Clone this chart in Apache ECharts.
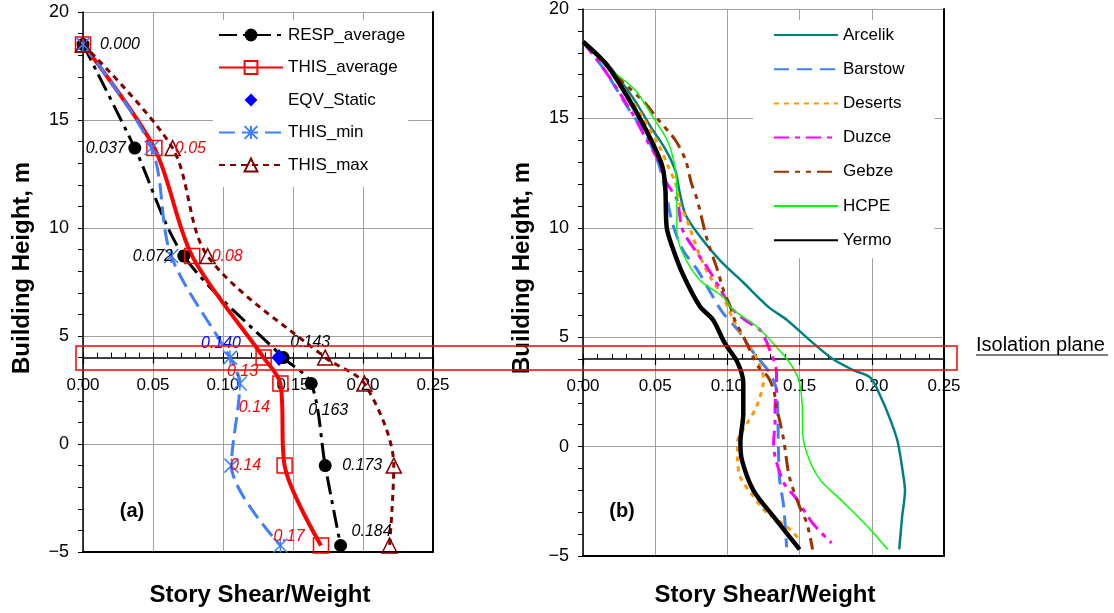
<!DOCTYPE html>
<html>
<head>
<meta charset="utf-8">
<title>Story Shear/Weight</title>
<script src="https://cdn.jsdelivr.net/npm/echarts@6/dist/echarts.min.js"></script>
<style>
  html, body { margin: 0; padding: 0; background: #fff; }
  #main { width: 1114px; height: 613px; }
</style>
</head>
<body>
<div id="main"></div>
<script>
// 坐标轴刻度
let xTicks = [0, 0.05, 0.1, 0.15, 0.2, 0.25]
let yTicks = [-5, 0, 5, 10, 15, 20]

// (a) 各楼层高度及剪力系数
let heights = [18.5, 13.7, 8.7, 4.0, 2.8, -1.0, -4.7]
let respAverage = [0.0, 0.037, 0.072, 0.143, 0.163, 0.173, 0.184]
let thisAverage = [0.0, 0.051, 0.078, 0.129, 0.141, 0.144, 0.17]
let thisMin = [0.0, 0.049, 0.063, 0.105, 0.112, 0.106, 0.141]
let thisMax = [0.0, 0.064, 0.089, 0.173, 0.201, 0.222, 0.219]
let eqvStatic = [[0.14, 4.0]]

// (b) 各地震波 [剪力/重量, 高度]
let arcelik = [[0, 18.5], [0.018, 17.4], [0.036, 15.8], [0.047, 14.6], [0.057, 13.6], [0.064, 12.6], [0.067, 11.6], [0.071, 10.6], [0.081, 9.6], [0.095, 8.5], [0.111, 7.5], [0.129, 6.35], [0.141, 5.8], [0.159, 4.75], [0.173, 4.0], [0.187, 3.5], [0.199, 3.15], [0.206, 2.3], [0.213, 1.2], [0.218, 0.2], [0.222, -1.4], [0.223, -2.0], [0.221, -3.2], [0.219, -4.7]]
let barstow = [[0, 18.5], [0.015, 17.2], [0.031, 15.5], [0.043, 14.3], [0.052, 13.0], [0.056, 12.0], [0.058, 11.4], [0.062, 10.2], [0.069, 9.0], [0.079, 8.1], [0.09, 6.85], [0.097, 6.1], [0.107, 5.35], [0.118, 4.3], [0.129, 3.4], [0.134, 2.6], [0.135, 1.1], [0.136, -1.4], [0.139, -2.75], [0.141, -4.6]]
let deserts = [[0, 18.5], [0.018, 17.3], [0.032, 16.0], [0.041, 15.1], [0.053, 13.7], [0.059, 12.8], [0.064, 12.05], [0.067, 11.1], [0.072, 10.35], [0.076, 9.6], [0.081, 8.7], [0.088, 7.75], [0.097, 6.85], [0.104, 5.8], [0.111, 5.0], [0.118, 4.3], [0.123, 3.65], [0.125, 3.05], [0.12, 1.8], [0.114, 1.1], [0.107, 0.2], [0.107, -0.6], [0.109, -1.4], [0.116, -2.1], [0.127, -3.0], [0.141, -3.65], [0.15, -4.25]]
let duzce = [[0, 18.5], [0.015, 17.2], [0.034, 15.25], [0.045, 13.9], [0.052, 13.1], [0.058, 12.05], [0.065, 11.3], [0.069, 9.9], [0.079, 8.85], [0.086, 8.2], [0.095, 7.2], [0.104, 6.25], [0.114, 5.7], [0.123, 5.3], [0.13, 4.3], [0.134, 3.4], [0.134, 2.75], [0.133, 1.8], [0.133, 1.1], [0.132, 0.2], [0.133, -0.45], [0.139, -1.65], [0.148, -2.4], [0.159, -3.5], [0.172, -4.4]]
let gebze = [[0, 18.5], [0.006, 18.1], [0.027, 16.7], [0.043, 15.7], [0.052, 14.95], [0.064, 14.0], [0.071, 13.1], [0.075, 12.05], [0.079, 11.3], [0.086, 9.45], [0.093, 8.1], [0.097, 7.2], [0.102, 6.4], [0.105, 5.8], [0.112, 4.9], [0.117, 4.2], [0.122, 3.6], [0.128, 3.2], [0.132, 2.6], [0.134, 1.8], [0.136, 1.25], [0.139, 0.3], [0.143, -1.4], [0.15, -2.75], [0.155, -3.5], [0.159, -4.7]]
let hcpe = [[0, 18.5], [0.017, 17.35], [0.036, 16.3], [0.05, 14.9], [0.059, 13.9], [0.064, 12.65], [0.065, 11.5], [0.065, 9.9], [0.069, 8.85], [0.081, 7.6], [0.097, 6.85], [0.104, 6.25], [0.12, 5.5], [0.136, 4.4], [0.145, 3.65], [0.15, 2.9], [0.152, 1.4], [0.152, 0.8], [0.155, -0.3], [0.164, -1.5], [0.178, -2.4], [0.197, -3.65], [0.211, -4.7]]
let yermo = [[0, 18.5], [0.017, 17.4], [0.036, 15.4], [0.048, 13.9], [0.055, 12.8], [0.057, 11.8], [0.058, 10.0], [0.062, 9.1], [0.069, 7.9], [0.081, 6.4], [0.09, 5.8], [0.098, 4.75], [0.107, 3.85], [0.111, 2.9], [0.111, 1.5], [0.109, 0.2], [0.11, -0.6], [0.118, -2.0], [0.132, -3.2], [0.15, -4.7]]

// 数值标注相对数据点的偏移（null 表示不标注）
let respLabelOffset = [[37, 0], [-29, 0], [-31, 0], [27, -15], [17, 27], [37, 0], [31, -14]]
let avgLabelOffset = [null, [36, 0], [35, 0], [-21, 14], [-26, 24], [-39, 0], [-32, -9]]
let eqvLabelOffset = [[-58, -14]]

let font = '"Liberation Sans", Arial, sans-serif'
let gridColor = '#a0a0a0'

function labelStyle(offset, text, color) {
  return {
    show: true,
    position: 'inside',
    offset,
    formatter: text,
    color,
    fontSize: 16,
    fontStyle: 'italic',
    fontFamily: font,
  }
}

function toItems(xs, offsets, digits, color) {
  return xs.map((x, i) => {
    let item = { value: [x, heights[i]] }
    if (offsets && offsets[i]) {
      item.label = labelStyle(offsets[i], x.toFixed(digits), color)
    }
    return item
  })
}

function minus(v) {
  return v < 0 ? '\u2212' + Math.abs(v) : String(v)
}

// 每个子图：主x轴（在隔震层 y=4 处）、次刻度轴、底边框；左y轴、右边框
function xAxesFor(gridIndex, offset) {
  let min = xTicks[0]
  let max = xTicks[xTicks.length - 1]
  return [
    {
      gridIndex, type: 'value', min, max, interval: xTicks[1] - xTicks[0],
      position: 'bottom', offset,
      axisLine: { onZero: false, lineStyle: { color: '#000', width: 1.5 } },
      axisTick: { length: 6, lineStyle: { color: '#000', width: 1.2 } },
      axisLabel: { margin: 19, fontSize: 17, color: '#000', fontFamily: font, formatter: (v) => v.toFixed(2) },
      splitLine: { show: true, lineStyle: { color: gridColor, width: 1 } },
    },
    {
      gridIndex, type: 'value', min, max, interval: 0.01,
      position: 'bottom', offset,
      axisLine: { show: false, onZero: false },
      axisTick: { inside: true, length: 5, lineStyle: { color: '#000', width: 1 } },
      axisLabel: { show: false },
      splitLine: { show: false },
    },
    {
      gridIndex, type: 'value', min, max, position: 'bottom',
      axisLine: { onZero: false, lineStyle: { color: '#000', width: 2 } },
      axisTick: { show: false },
      axisLabel: { show: false },
      splitLine: { show: false },
    },
  ]
}

function yAxesFor(gridIndex) {
  let min = yTicks[0]
  let max = yTicks[yTicks.length - 1]
  return [
    {
      gridIndex, type: 'value', min, max, interval: yTicks[1] - yTicks[0],
      axisLine: { onZero: false, lineStyle: { color: '#000', width: 1.5 } },
      axisTick: { length: 5, lineStyle: { color: '#000' } },
      minorTick: { show: true, splitNumber: 5, length: 5, lineStyle: { color: '#000' } },
      axisLabel: { margin: 14, fontSize: 18, color: '#000', fontFamily: font, formatter: minus },
      splitLine: { show: true, lineStyle: { color: gridColor, width: 1 } },
    },
    {
      gridIndex, type: 'value', min, max, position: 'right',
      axisLine: { show: true, onZero: false, lineStyle: { color: '#000', width: 2 } },
      axisTick: { show: false },
      axisLabel: { show: false },
      splitLine: { show: false },
    },
  ]
}

function waveLine(name, data, color, width, type) {
  return {
    name, type: 'line', xAxisIndex: 3, yAxisIndex: 2,
    data, smooth: 0.3, symbol: 'none', color,
    lineStyle: { color, width, type },
  }
}

var myChart = echarts.init(document.getElementById('main'))

var option = {
  animation: false,
  backgroundColor: '#fff',
  grid: [
    { left: 83, top: 12, width: 350, height: 540 },
    { left: 583, top: 9, width: 361, height: 547 },
  ],
  xAxis: [...xAxesFor(0, -194.4), ...xAxesFor(1, -197)],
  yAxis: [...yAxesFor(0), ...yAxesFor(1)],
  legend: [
    {
      data: ['RESP_average', 'THIS_average', 'EQV_Static', 'THIS_min', 'THIS_max'],
      orient: 'vertical', left: 213, top: 20,
      padding: [6, 3, 13, 5], itemGap: 14.5, itemWidth: 64, itemHeight: 16,
      backgroundColor: '#fff', selectedMode: false,
      textStyle: { fontSize: 17, lineHeight: 18, color: '#000', fontFamily: font },
    },
    {
      data: ['Arcelik', 'Barstow', 'Deserts', 'Duzce', 'Gebze', 'HCPE', 'Yermo'],
      orient: 'vertical', left: 753, top: 20,
      padding: [6, 30, 9, 20], itemGap: 16.2, itemWidth: 64, itemHeight: 14,
      backgroundColor: '#fff', selectedMode: false,
      // 这些曲线没有标记点，图例里也不画
      itemStyle: { opacity: 0 },
      textStyle: { fontSize: 17, lineHeight: 18, color: '#000', fontFamily: font },
    },
  ],
  series: [
    {
      name: 'RESP_average', type: 'line', xAxisIndex: 0, yAxisIndex: 0,
      data: toItems(respAverage, respLabelOffset, 3, '#000'),
      smooth: 0.3, symbol: 'circle', symbolSize: 13, color: '#000',
      itemStyle: { color: '#000' },
      lineStyle: { color: '#000', width: 3, type: [18, 6, 4, 6] },
    },
    {
      name: 'THIS_average', type: 'line', xAxisIndex: 0, yAxisIndex: 0,
      data: toItems(thisAverage, avgLabelOffset, 2, '#ff0000'),
      smooth: 0.3, symbol: 'rect', symbolSize: 15, color: '#ff0000',
      itemStyle: { color: 'rgba(0,0,0,0)', borderColor: '#ff0000', borderWidth: 1.5 },
      lineStyle: { color: '#ff0000', width: 4 },
    },
    {
      name: 'THIS_min', type: 'line', xAxisIndex: 0, yAxisIndex: 0,
      data: toItems(thisMin, null, 3),
      smooth: 0.3, symbol: 'path://M0,0L10,10M10,0L0,10M5,0L5,10', symbolSize: 14, color: '#3f7fff',
      itemStyle: { color: 'rgba(0,0,0,0)', borderColor: '#3f7fff', borderWidth: 1.5 },
      lineStyle: { color: '#3f7fff', width: 3, type: [16, 7] },
    },
    {
      name: 'THIS_max', type: 'line', xAxisIndex: 0, yAxisIndex: 0,
      data: toItems(thisMax, null, 3),
      smooth: 0.3, symbol: 'triangle', symbolSize: 15, color: '#800000',
      itemStyle: { color: 'rgba(0,0,0,0)', borderColor: '#800000', borderWidth: 1.5 },
      lineStyle: { color: '#800000', width: 3, type: [6, 5] },
    },
    {
      // 只有一个点，用不可见的线让图例画成单个菱形
      name: 'EQV_Static', type: 'line', xAxisIndex: 0, yAxisIndex: 0, z: 4,
      data: eqvStatic.map((p, i) => ({
        value: p,
        label: labelStyle(eqvLabelOffset[i], p[0].toFixed(3), '#0000ff'),
      })),
      symbol: 'diamond', symbolSize: [15, 17], color: '#0000ff',
      itemStyle: { color: '#0000ff' },
      lineStyle: { width: 0, opacity: 0 },
    },
    waveLine('Arcelik', arcelik, '#008080', 2.5, 'solid'),
    waveLine('Barstow', barstow, '#3f7fff', 3, [15, 8]),
    waveLine('Deserts', deserts, '#ff9900', 3, [5, 5]),
    waveLine('Duzce', duzce, '#ff00ff', 3, [15, 6, 5, 6]),
    waveLine('Gebze', gebze, '#993300', 3, [15, 6, 5, 6, 5, 6]),
    waveLine('HCPE', hcpe, '#00ff00', 1.5, 'solid'),
    waveLine('Yermo', yermo, '#000000', 4.5, 'solid'),
  ],
  graphic: [
    { type: 'text', x: 22, y: 268, rotation: Math.PI / 2, style: { text: 'Building Height, m', fontSize: 24, fontWeight: 'bold', fontFamily: font, fill: '#000', align: 'center', verticalAlign: 'middle' } },
    { type: 'text', x: 522, y: 268, rotation: Math.PI / 2, style: { text: 'Building Height, m', fontSize: 24, fontWeight: 'bold', fontFamily: font, fill: '#000', align: 'center', verticalAlign: 'middle' } },
    { type: 'text', x: 260, y: 595, style: { text: 'Story Shear/Weight', fontSize: 24, fontWeight: 'bold', fontFamily: font, fill: '#000', align: 'center', verticalAlign: 'middle' } },
    { type: 'text', x: 765, y: 595, style: { text: 'Story Shear/Weight', fontSize: 24, fontWeight: 'bold', fontFamily: font, fill: '#000', align: 'center', verticalAlign: 'middle' } },
    { type: 'text', x: 132, y: 511, style: { text: '(a)', fontSize: 20, fontWeight: 'bold', fontFamily: font, fill: '#000', align: 'center', verticalAlign: 'middle' } },
    { type: 'text', x: 622, y: 511, style: { text: '(b)', fontSize: 20, fontWeight: 'bold', fontFamily: font, fill: '#000', align: 'center', verticalAlign: 'middle' } },
    // 隔震层标注
    { type: 'rect', z: 100, shape: { x: 76, y: 346, width: 881, height: 24 }, style: { fill: 'none', stroke: '#ff0000', lineWidth: 1.5 } },
    { type: 'text', z: 100, x: 976, y: 345, style: { text: 'Isolation plane', fontSize: 20, fontFamily: font, fill: '#000', align: 'left', verticalAlign: 'middle' } },
    { type: 'line', z: 100, shape: { x1: 976, y1: 355, x2: 1108, y2: 355 }, style: { stroke: '#000', lineWidth: 1 } },
  ],
}

myChart.setOption(option)
</script>
</body>
</html>
